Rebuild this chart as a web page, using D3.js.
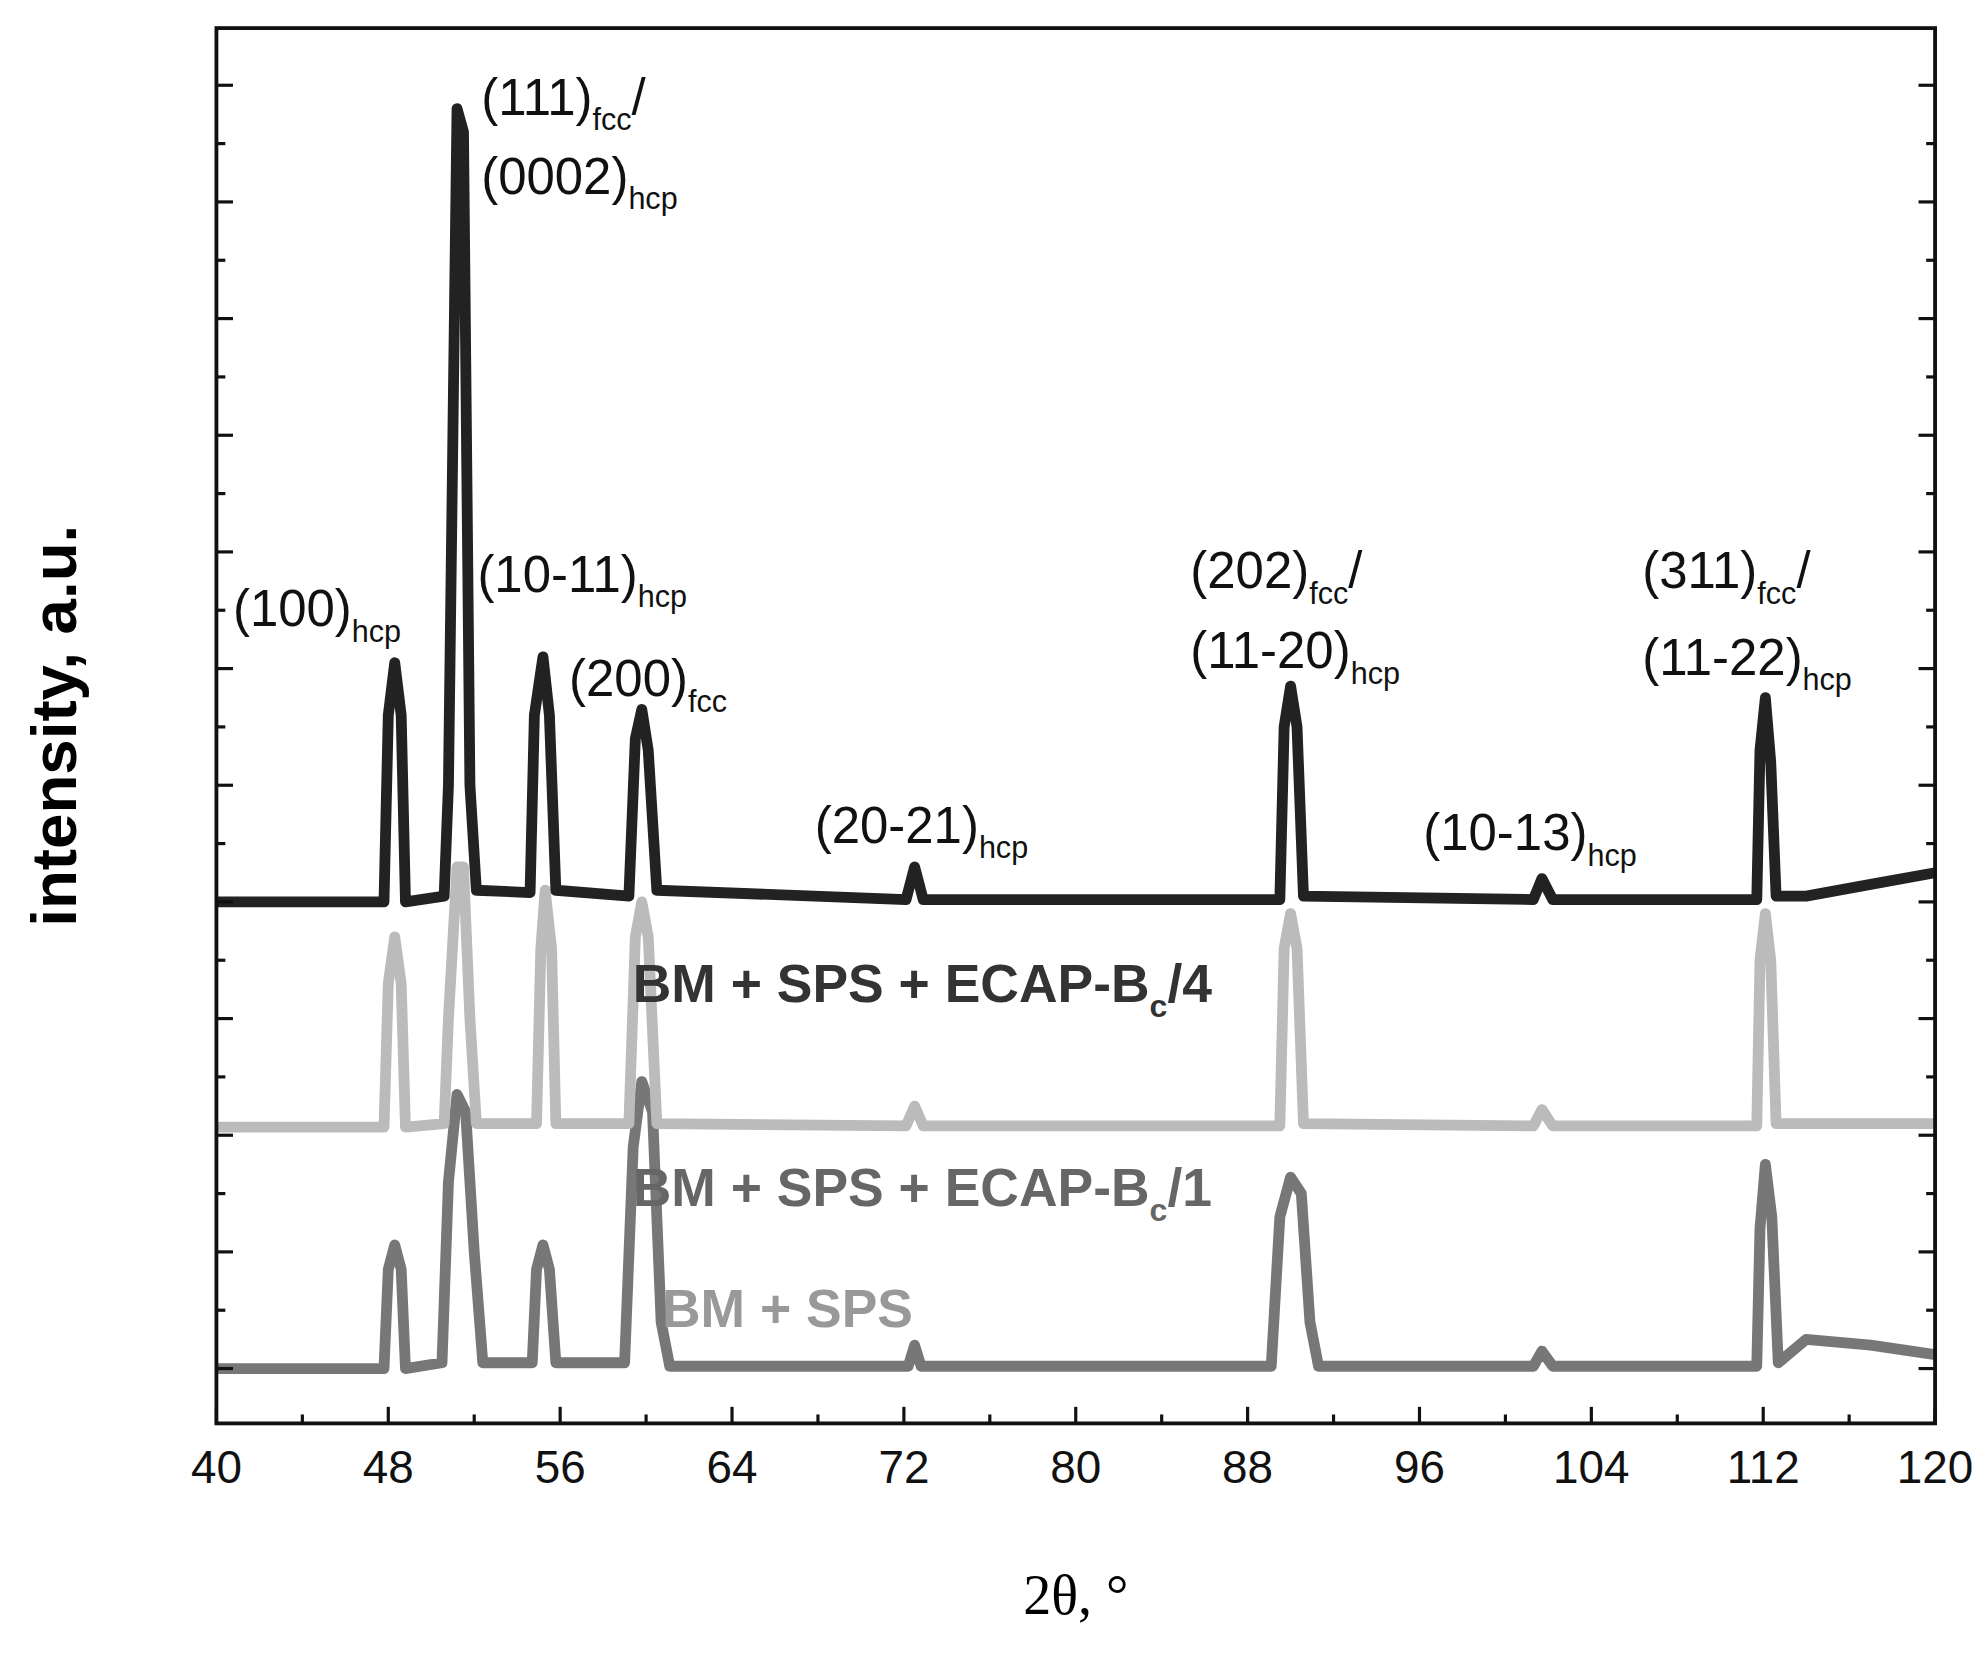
<!DOCTYPE html>
<html><head><meta charset="utf-8">
<script src="https://cdn.jsdelivr.net/npm/d3@7"></script>
<style>body{margin:0;background:#fff}</style></head>
<body><svg id="c" width="1986" height="1659" viewBox="0 0 1560 1303"></svg>
<script>
const xTicks=[40,48,56,64,72,80,88,96,104,112,120];
const seriesDark=[[40,4.0],[47.8,4.0],[48.0,5.6],[48.3,6.05],[48.6,5.6],[48.8,4.0],[50.6,4.05],[50.8,5.0],[51.2,10.8],[51.5,10.6],[51.8,5],[52.1,4.1],[54.6,4.08],[54.8,5.6],[55.2,6.1],[55.5,5.6],[55.8,4.1],[59.2,4.05],[59.5,5.4],[59.8,5.65],[60.1,5.3],[60.5,4.1],[72.1,4.02],[72.5,4.3],[72.9,4.02],[89.5,4.02],[89.7,5.5],[90,5.85],[90.3,5.5],[90.6,4.05],[101.3,4.02],[101.7,4.2],[102.2,4.02],[111.7,4.02],[111.85,5.3],[112.1,5.75],[112.35,5.2],[112.6,4.05],[114,4.05],[117,4.15],[120,4.25]];
const seriesLight=[[40,2.07],[47.8,2.07],[48.0,3.3],[48.3,3.7],[48.6,3.3],[48.8,2.07],[50.6,2.1],[50.8,3.0],[51.2,4.3],[51.5,4.3],[51.8,3],[52.1,2.1],[54.9,2.1],[55.1,3.6],[55.3,4.1],[55.6,3.6],[55.8,2.1],[59.2,2.1],[59.5,3.7],[59.8,4.0],[60.1,3.7],[60.5,2.1],[72.1,2.08],[72.5,2.25],[72.9,2.08],[89.5,2.08],[89.7,3.6],[90,3.9],[90.3,3.6],[90.6,2.1],[101.3,2.08],[101.7,2.22],[102.2,2.08],[111.7,2.08],[111.85,3.5],[112.1,3.9],[112.35,3.5],[112.6,2.1],[120,2.1]];
const seriesMed=[[40,0],[47.8,0],[48.0,0.85],[48.3,1.06],[48.6,0.85],[48.8,0],[50.5,0.05],[50.8,1.6],[51.2,2.35],[51.6,2.2],[52.0,1.0],[52.4,0.05],[54.7,0.05],[54.9,0.85],[55.2,1.06],[55.5,0.85],[55.8,0.05],[59.0,0.05],[59.4,1.9],[59.8,2.46],[60.3,2.2],[60.7,0.4],[61.1,0.02],[72.2,0.02],[72.5,0.2],[72.8,0.02],[89.1,0.02],[89.5,1.3],[90,1.64],[90.5,1.5],[90.9,0.4],[91.3,0.02],[101.3,0.02],[101.7,0.15],[102.2,0.02],[111.7,0.02],[111.85,1.2],[112.1,1.75],[112.4,1.3],[112.7,0.05],[114,0.25],[117,0.2],[120,0.12]];
const L=170,R=1520,T=22,B=1118;
const svg=d3.select("#c");
const x=d3.scaleLinear().domain([40,120]).range([L,R]);
const y=d3.scaleLinear().domain([-0.47,11.49]).range([B,T]);
const line=d3.line().x(d=>x(d[0])).y(d=>y(d[1]));
[[seriesMed,"#777"],[seriesLight,"#bbb"],[seriesDark,"#222"]].forEach(([s,c])=>{
 svg.append("path").attr("d",line(s)).attr("fill","none").attr("stroke",c).attr("stroke-width",8.5).attr("stroke-linejoin","round");
});
svg.append("rect").attr("x",L).attr("y",T).attr("width",R-L).attr("height",B-T).attr("fill","none").attr("stroke","#111").attr("stroke-width",3);
const g=svg.append("g").attr("stroke","#111").attr("stroke-width",2.5);
for(let v=40;v<=120;v+=4){const maj=v%8===0;g.append("line").attr("x1",x(v)).attr("x2",x(v)).attr("y1",B).attr("y2",B-(maj?13:7));}
for(let v=-0.5;v<=11.5;v+=0.5){if(y(v)<T+2||y(v)>B-2)continue;const maj=Number.isInteger(v);const len=maj?13:7;
 g.append("line").attr("x1",L).attr("x2",L+len).attr("y1",y(v)).attr("y2",y(v));
 g.append("line").attr("x1",R).attr("x2",R-len).attr("y1",y(v)).attr("y2",y(v));}
xTicks.forEach(v=>svg.append("text").attr("x",x(v)).attr("y",1165).attr("text-anchor","middle").attr("font-family","Liberation Sans, Arial").attr("font-size",36).attr("fill","#111").text(v));
svg.append("text").attr("x",845).attr("y",1268).attr("text-anchor","middle").attr("font-family","Liberation Serif, serif").attr("font-size",44).text("2θ, °");
svg.append("text").attr("transform","translate(60,570) rotate(-90)").attr("text-anchor","middle").attr("font-family","Liberation Sans, Arial").attr("font-weight","bold").attr("font-size",50).text("intensity, a.u.");
function lab(xp,yp,main,sub,rest,opt={}){
 const t=svg.append("text").attr("x",xp).attr("y",yp).attr("font-family","Liberation Sans, Arial").attr("font-size",opt.fs||40).attr("fill",opt.fill||"#111").attr("font-weight",opt.bold?"bold":"normal");
 t.append("tspan").text(main);
 if(sub){t.append("tspan").attr("dy",12).attr("font-size",(opt.fs||40)*0.6).text(sub);}
 if(rest){t.append("tspan").attr("dy",-12).text(rest);}
}
lab(378,90,"(111)","fcc","/");
lab(378,152,"(0002)","hcp");
lab(183,492,"(100)","hcp");
lab(375,465,"(10-11)","hcp");
lab(447,547,"(200)","fcc");
lab(640,662,"(20-21)","hcp");
lab(935,462,"(202)","fcc","/");
lab(935,525,"(11-20)","hcp");
lab(1118,668,"(10-13)","hcp");
lab(1290,462,"(311)","fcc","/");
lab(1290,530,"(11-22)","hcp");
lab(497,787,"BM + SPS + ECAP-B","c","/4",{bold:true,fill:"#333",fs:42});
lab(497,947,"BM + SPS + ECAP-B","c","/1",{bold:true,fill:"#666",fs:42});
lab(520,1042,"BM + SPS",null,null,{bold:true,fill:"#999",fs:42});
</script></body></html>
